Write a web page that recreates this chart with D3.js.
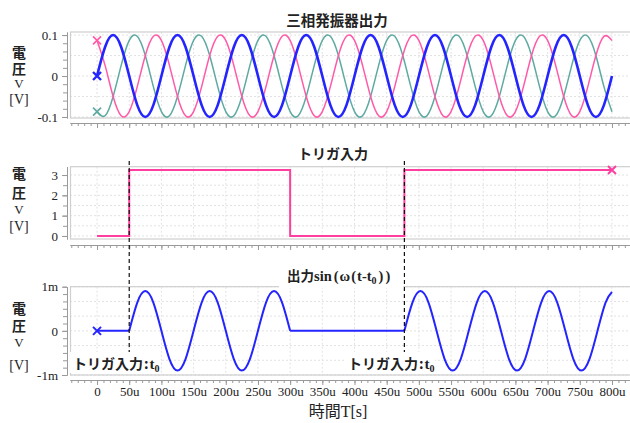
<!DOCTYPE html>
<html>
<head>
<meta charset="utf-8">
<script src="https://cdnjs.cloudflare.com/ajax/libs/d3/7.8.5/d3.min.js"></script>
<style>
    body { margin: 0; background: #fff; }
    svg text { font-family: "Liberation Serif", serif; fill: #222; }
    .jp { font-family: "Noto Sans CJK JP", sans-serif; font-weight: bold; }
    .vert { writing-mode: vertical-rl; }
    .tick line { stroke: #999; }
    .domain { stroke: #999; }
</style>
</head>
<body>
<div id="chart"></div>
<script>

// time axis, in microseconds
const xTicks = [0, 50, 100, 150, 200, 250, 300, 350, 400, 450, 500, 550, 600, 650, 700, 750, 800];

// three-phase oscillator, sampled every 12.5us [V]
const tSine = [
    0, 12.5, 25, 37.5, 50, 62.5, 75, 87.5, 100, 112.5, 125, 137.5, 150, 162.5, 175, 187.5,
    200, 212.5, 225, 237.5, 250, 262.5, 275, 287.5, 300, 312.5, 325, 337.5, 350, 362.5, 375, 387.5,
    400, 412.5, 425, 437.5, 450, 462.5, 475, 487.5, 500, 512.5, 525, 537.5, 550, 562.5, 575, 587.5,
    600, 612.5, 625, 637.5, 650, 662.5, 675, 687.5, 700, 712.5, 725, 737.5, 750, 762.5, 775, 787.5, 800];
const phaseBlue = [
    0, .071, .1, .071, 0, -.071, -.1, -.071,  0, .071, .1, .071, 0, -.071, -.1, -.071,
    0, .071, .1, .071, 0, -.071, -.1, -.071,  0, .071, .1, .071, 0, -.071, -.1, -.071,
    0, .071, .1, .071, 0, -.071, -.1, -.071,  0, .071, .1, .071, 0, -.071, -.1, -.071,
    0, .071, .1, .071, 0, -.071, -.1, -.071,  0, .071, .1, .071, 0, -.071, -.1, -.071, 0];
const phasePink = [
    .087, .026, -.05, -.097, -.087, -.026, .05, .097,  .087, .026, -.05, -.097, -.087, -.026, .05, .097,
    .087, .026, -.05, -.097, -.087, -.026, .05, .097,  .087, .026, -.05, -.097, -.087, -.026, .05, .097,
    .087, .026, -.05, -.097, -.087, -.026, .05, .097,  .087, .026, -.05, -.097, -.087, -.026, .05, .097,
    .087, .026, -.05, -.097, -.087, -.026, .05, .097,  .087, .026, -.05, -.097, -.087, -.026, .05, .097, .087];
const phaseTeal = [
    -.087, -.097, -.05, .026, .087, .097, .05, -.026,  -.087, -.097, -.05, .026, .087, .097, .05, -.026,
    -.087, -.097, -.05, .026, .087, .097, .05, -.026,  -.087, -.097, -.05, .026, .087, .097, .05, -.026,
    -.087, -.097, -.05, .026, .087, .097, .05, -.026,  -.087, -.097, -.05, .026, .087, .097, .05, -.026,
    -.087, -.097, -.05, .026, .087, .097, .05, -.026,  -.087, -.097, -.05, .026, .087, .097, .05, -.026, -.087];

// trigger input [V]
const trigT = [0, 50, 50, 300, 300, 477.5, 477.5, 800];
const trigV = [0, 0, 3.25, 3.25, 0, 0, 3.25, 3.25];
const trigEdges = [50, 477.5];

// output sin(w(t-t0)) [mV]
const outT = [
    0, 50, 62.5, 75, 87.5, 100, 112.5, 125, 137.5, 150, 162.5, 175, 187.5, 200, 212.5, 225, 237.5,
    250, 262.5, 275, 287.5, 300,
    477.5, 490, 502.5, 515, 527.5, 540, 552.5, 565, 577.5, 590, 602.5, 615, 627.5, 640, 652.5, 665,
    677.5, 690, 702.5, 715, 727.5, 740, 752.5, 765, 777.5, 790, 800];
const outV = [
    0, 0, .64, .9, .64, 0, -.64, -.9, -.64, 0, .64, .9, .64, 0, -.64, -.9, -.64,
    0, .64, .9, .64, 0,
    0, .64, .9, .64, 0, -.64, -.9, -.64, 0, .64, .9, .64, 0, -.64, -.9, -.64,
    0, .64, .9, .64, 0, -.64, -.9, -.64, 0, .64, .88];
const outBreaks = [50, 300, 477.5];

// axis ticks
const topTicks = [-0.1, 0, 0.1], topLabels = ["-0.1", "0", "0.1"];
const trigTicks = [0, 1, 2, 3];
const outTicks = [-1, 0, 1], outLabels = ["-1m", "0", "1m"];

const W = 630, H = 423;
const svg = d3.select("#chart").append("svg")
    .attr("width", W).attr("height", H);

const x = d3.scaleLinear().domain([-42, 828]).range([70, 630]);

// title = [top of 電圧, gap between the two chars, baseline of V, baseline of [V]]
const panels = [
    {key: "top", y: d3.scaleLinear().domain([-0.1025, 0.1075]).range([118, 32]), axisY: 123,
        ticks: topTicks, labels: topLabels, minor: 0.02, grid: 0.05, title: [46, 2, 88, 104]},
    {key: "mid", y: d3.scaleLinear().domain([-0.15, 3.41]).range([239, 166.7]), axisY: 245,
        ticks: trigTicks, labels: trigTicks.map(String), minor: 0.5, grid: 0.5, title: [167, 5, 214, 231]},
    {key: "bot", y: d3.scaleLinear().domain([-1, 1]).range([375, 286.7]), axisY: 380,
        ticks: outTicks, labels: outLabels, minor: 1 / 6, grid: 1 / 3, title: [302, 3, 347, 370]}
];

function steps(lo, hi, step) {
    let out = [];
    for (let v = Math.ceil(lo / step - 1e-6) * step; v <= hi + 1e-9; v += step) out.push(+v.toFixed(6));
    return out;
}

panels.forEach(p => {
    let g = svg.append("g").attr("class", "panel-" + p.key);
    let [y0, y1] = p.y.range();

    // gridlines
    g.selectAll(".vgrid").data(xTicks).enter().append("line")
        .attr("x1", d => x(d)).attr("x2", d => x(d))
        .attr("y1", y1).attr("y2", y0)
        .attr("stroke", "#e2e2e2").attr("stroke-dasharray", "2,2");
    g.selectAll(".hgrid").data(steps(p.y.domain()[0], p.y.domain()[1], p.grid)).enter().append("line")
        .attr("x1", 70).attr("x2", W)
        .attr("y1", d => p.y(d)).attr("y2", d => p.y(d))
        .attr("stroke", "#e2e2e2").attr("stroke-dasharray", "2,2");

    // frame
    g.append("rect")
        .attr("x", 70.5).attr("y", y1).attr("width", 600).attr("height", y0 - y1)
        .attr("fill", "none").attr("stroke", "#cfcfcf").attr("stroke-width", 1.2);

    // y axis, minor + major
    g.append("g").attr("transform", "translate(67,0)")
        .call(d3.axisLeft(p.y).tickValues(steps(p.y.domain()[0], p.y.domain()[1], p.minor))
            .tickSize(4).tickSizeOuter(0).tickFormat(""));
    g.append("g").attr("transform", "translate(67,0)")
        .call(d3.axisLeft(p.y).tickValues(p.ticks).tickSize(5).tickSizeOuter(0).tickPadding(4)
            .tickFormat((d, i) => p.labels[i]))
        .call(a => a.selectAll("text").attr("font-size", 13).attr("font-family", "Liberation Serif").attr("fill", "#222"));

    // x axis row
    g.append("g").attr("transform", `translate(0,${p.axisY})`)
        .call(d3.axisBottom(x).tickValues(steps(-40, 820, 10)).tickSize(3).tickSizeOuter(0).tickFormat(""));
    let xa = g.append("g").attr("transform", `translate(0,${p.axisY})`)
        .call(d3.axisBottom(x).tickValues(xTicks).tickSize(5).tickSizeOuter(0).tickPadding(2)
            .tickFormat(d => p.key === "bot" ? (d === 0 ? "0" : d + "u") : ""));
    xa.selectAll("text").attr("font-size", 13).attr("font-family", "Liberation Serif").attr("fill", "#222");

    // y axis title: 電圧 written vertically, then V and [V]
    g.append("text").attr("class", "jp vert")
        .attr("x", 19).attr("y", p.title[0]).attr("font-size", 14)
        .style("letter-spacing", p.title[1] + "px").text("電圧");
    g.append("text").attr("x", 19).attr("y", p.title[2]).attr("text-anchor", "middle")
        .attr("font-size", 13).text("V");
    g.append("text").attr("x", 19).attr("y", p.title[3]).attr("text-anchor", "middle")
        .attr("font-size", 14).text("[V]");

    p.g = g;
});

// ---- top: three phase
let pTop = panels[0];
let sineLine = vals => d3.line().curve(d3.curveNatural)
    .x((d, i) => x(tSine[i])).y((d, i) => pTop.y(vals[i]))(vals);
[[phaseTeal, "#5eaaa2", 1.5], [phasePink, "#ff5aa8", 1.5], [phaseBlue, "#2424ff", 2.6]].forEach(s => {
    pTop.g.append("path").attr("d", sineLine(s[0]))
        .attr("fill", "none").attr("stroke", s[1]).attr("stroke-width", s[2]);
});

function cross(g, cx, cy, color, r, sw) {
    g.append("path")
        .attr("d", `M${cx - r},${cy - r}L${cx + r},${cy + r}M${cx - r},${cy + r}L${cx + r},${cy - r}`)
        .attr("stroke", color).attr("stroke-width", sw).attr("fill", "none");
}
cross(pTop.g, x(tSine[0]), pTop.y(phasePink[0]), "#ff5aa8", 4, 1.6);
cross(pTop.g, x(tSine[0]), pTop.y(phaseBlue[0]), "#2424ff", 4, 2.4);
cross(pTop.g, x(tSine[0]), pTop.y(phaseTeal[0]), "#5eaaa2", 4, 1.6);

// ---- middle: trigger
let pMid = panels[1];
pMid.g.append("path")
    .attr("d", d3.line().x((d, i) => x(trigT[i])).y((d, i) => pMid.y(trigV[i]))(trigV))
    .attr("fill", "none").attr("stroke", "#ff3f9f").attr("stroke-width", 2);
cross(pMid.g, x(trigT[trigT.length - 1]), pMid.y(trigV[trigV.length - 1]), "#ff3f9f", 4, 2);

// ---- bottom: output, split at trigger edges
let pBot = panels[2];
let segs = [], cur = [];
outT.forEach((t, i) => {
    cur.push([t, outV[i]]);
    if (outBreaks.includes(t) && cur.length > 1) { segs.push(cur); cur = [[t, outV[i]]]; }
});
segs.push(cur);
segs.forEach(s => {
    pBot.g.append("path")
        .attr("d", d3.line().curve(d3.curveNatural).x(d => x(d[0])).y(d => pBot.y(d[1]))(s))
        .attr("fill", "none").attr("stroke", "#2424ff").attr("stroke-width", 2);
});
cross(pBot.g, x(outT[0]), pBot.y(outV[0]), "#2424ff", 4, 2);

// trigger markers
trigEdges.forEach(t => {
    svg.append("line").attr("x1", x(t)).attr("x2", x(t)).attr("y1", 161).attr("y2", 352)
        .attr("stroke", "#111").attr("stroke-width", 1.2).attr("stroke-dasharray", "4,3");
});

// titles (white box behind the bottom one hides the frame)
svg.append("text").attr("class", "jp").attr("x", 337).attr("y", 26)
    .attr("text-anchor", "middle").attr("font-size", 14.5).text("三相発振器出力");
svg.append("text").attr("class", "jp").attr("x", 333).attr("y", 159)
    .attr("text-anchor", "middle").attr("font-size", 14).text("トリガ入力");

svg.append("rect").attr("x", 279).attr("y", 262).attr("width", x(trigEdges[1]) - 280).attr("height", 26).attr("fill", "#fff");
let bt = svg.append("text").attr("x", 287).attr("y", 281).attr("font-size", 14.5).attr("font-weight", "bold");
bt.append("tspan").attr("class", "jp").attr("font-size", 13.5).text("出力");
bt.append("tspan").text("sin");
bt.append("tspan").attr("dx", 2).text("(");
bt.append("tspan").attr("dx", 1).text("ω");
bt.append("tspan").attr("dx", 1).text("(");
bt.append("tspan").attr("dx", 1).text("t-t");
bt.append("tspan").attr("font-size", 10).attr("dy", 3).text("0");
bt.append("tspan").attr("dy", -3).attr("dx", 2).text(")");
bt.append("tspan").attr("dx", 2).text(")");

// annotation labels
[[70, 73], [345, 348]].forEach(a => {
    svg.append("rect").attr("x", a[0]).attr("y", 352).attr("width", 90).attr("height", 21).attr("fill", "#fff");
    let t = svg.append("text").attr("x", a[1]).attr("y", 369).attr("font-size", 15).attr("font-weight", "bold");
    t.append("tspan").attr("class", "jp").attr("font-size", 14).text("トリガ入力");
    t.append("tspan").attr("class", "jp").attr("font-size", 14).attr("dx", 1).text(":");
    t.append("tspan").attr("dx", 1).text("t");
    t.append("tspan").attr("font-size", 10).attr("dy", 3).text("0");
});

// x axis title
let xt = svg.append("text").attr("x", 338).attr("y", 417).attr("text-anchor", "middle").attr("font-size", 16);
xt.append("tspan").attr("font-family", "Noto Sans CJK JP").text("時間");
xt.append("tspan").text("T[s]");

</script>
</body>
</html>
